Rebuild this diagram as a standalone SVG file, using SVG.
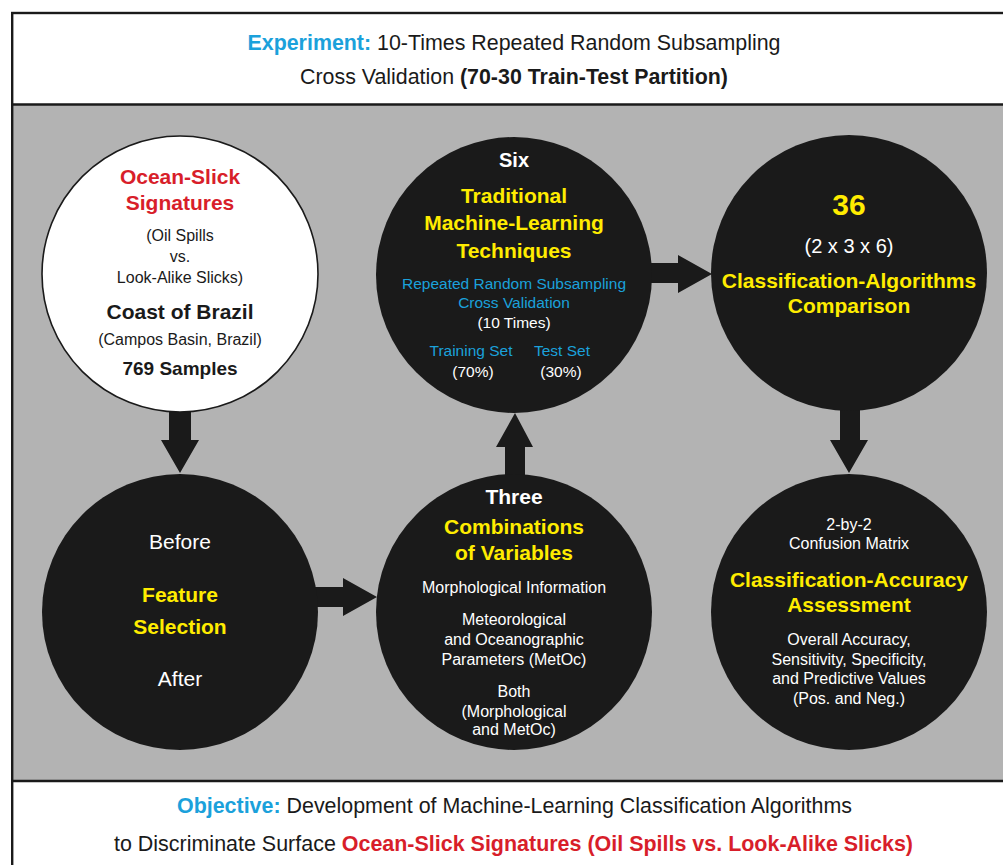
<svg xmlns="http://www.w3.org/2000/svg" width="1003" height="865" viewBox="0 0 1003 865">
<style>
text{font-family:"Liberation Sans",Arial,sans-serif;text-anchor:middle}
.nar{font-family:"Liberation Sans Narrow","Liberation Sans",Arial,sans-serif;font-size:21.5px;fill:#1a1a1a}
.b{font-weight:bold}
.cy{fill:#1ba1db}
.rd{fill:#d81e2a}
.ye{fill:#ffec00;font-weight:bold;font-size:21px}
.wh{fill:#ffffff}
.bk{fill:#1a1a1a}
.dark{fill:#1a1a1a}
.s16{font-size:16px}
.s15{font-size:15.5px}
.s21{font-size:21px}
.s30{font-size:30px}
</style>
<rect x="0" y="0" width="1003" height="865" fill="#ffffff"/>
<g id="frame">
<rect x="12" y="104" width="1000" height="677" fill="#b3b3b3"/>
<rect x="12.2" y="13" width="1000" height="870" fill="none" stroke="#1a1a1a" stroke-width="2.4"/>
<line x1="12" y1="104.5" x2="1003" y2="104.5" stroke="#1a1a1a" stroke-width="2.4"/>
<line x1="12" y1="781" x2="1003" y2="781" stroke="#1a1a1a" stroke-width="2.4"/>
</g>
<g id="header">
<text class="nar" x="514" y="50" textLength="533" lengthAdjust="spacingAndGlyphs"><tspan class="b cy">Experiment:</tspan> 10-Times Repeated Random Subsampling</text>
<text class="nar" x="514" y="84" textLength="428" lengthAdjust="spacingAndGlyphs">Cross Validation <tspan class="b">(70-30 Train-Test Partition)</tspan></text>
</g>
<g id="footer">
<text class="nar" x="514.5" y="813" textLength="675" lengthAdjust="spacingAndGlyphs"><tspan class="b cy">Objective:</tspan> Development of Machine-Learning Classification Algorithms</text>
<text class="nar" x="513.5" y="851" textLength="799" lengthAdjust="spacingAndGlyphs">to Discriminate Surface <tspan class="b rd">Ocean-Slick Signatures (Oil Spills vs. Look-Alike Slicks)</tspan></text>
</g>
<g id="connectors" fill="#1a1a1a">
<polygon points="169,400 191,400 191,440 199,440 180,473 161,440 169,440"/>
<polygon points="300,587 343,587 343,578 377,597 343,616 343,607 300,607"/>
<polygon points="505,480 525,480 525,447 533,447 515,413 496,447 505,447"/>
<polygon points="640,263 678,263 678,255 712,274 678,293 678,283 640,283"/>
<polygon points="840,400 860,400 860,440 868,440 849,473 830,440 840,440"/>
</g>
<g id="node-signatures">
<circle cx="180" cy="274" r="138" fill="#ffffff" stroke="#1a1a1a" stroke-width="1.6"/>
<text class="b rd s21" x="180" y="184">Ocean-Slick</text>
<text class="b rd s21" x="180" y="210">Signatures</text>
<text class="bk s16" x="180" y="241">(Oil Spills</text>
<text class="bk s16" x="180" y="262">vs.</text>
<text class="bk s16" x="180" y="283">Look-Alike Slicks)</text>
<text class="b bk s21" x="180" y="319">Coast of Brazil</text>
<text class="bk s16" x="180" y="345">(Campos Basin, Brazil)</text>
<text class="b bk" x="180" y="375" font-size="19">769 Samples</text>
</g>
<g id="node-techniques">
<circle cx="514" cy="275" r="138" class="dark"/>
<text class="b wh" x="514" y="167" font-size="20">Six</text>
<text class="ye" x="514" y="203">Traditional</text>
<text class="ye" x="514" y="230">Machine-Learning</text>
<text class="ye" x="514" y="258">Techniques</text>
<text class="cy s15" x="514" y="289">Repeated Random Subsampling</text>
<text class="cy s15" x="514" y="308">Cross Validation</text>
<text class="wh s15" x="514" y="328">(10 Times)</text>
<text class="cy s15" x="471" y="356">Training Set</text>
<text class="cy s15" x="562" y="356">Test Set</text>
<text class="wh s15" x="473" y="377">(70%)</text>
<text class="wh s15" x="561" y="377">(30%)</text>
</g>
<g id="node-comparison">
<circle cx="849" cy="273" r="138" class="dark"/>
<text class="ye s30" x="849" y="215">36</text>
<text class="wh" x="849" y="253" font-size="20">(2 x 3 x 6)</text>
<text class="ye" x="849" y="288">Classification-Algorithms</text>
<text class="ye" x="849" y="313">Comparison</text>
</g>
<g id="node-feature-selection">
<circle cx="180" cy="612" r="138" class="dark"/>
<text class="wh s21" x="180" y="549">Before</text>
<text class="ye" x="180" y="602">Feature</text>
<text class="ye" x="180" y="634">Selection</text>
<text class="wh s21" x="180" y="686">After</text>
</g>
<g id="node-combinations">
<circle cx="514" cy="612" r="138" class="dark"/>
<text class="b wh s21" x="514" y="504">Three</text>
<text class="ye" x="514" y="534">Combinations</text>
<text class="ye" x="514" y="560">of Variables</text>
<text class="wh s16" x="514" y="593">Morphological Information</text>
<text class="wh s16" x="514" y="625">Meteorological</text>
<text class="wh s16" x="514" y="645">and Oceanographic</text>
<text class="wh s16" x="514" y="665">Parameters (MetOc)</text>
<text class="wh s16" x="514" y="697">Both</text>
<text class="wh s16" x="514" y="717">(Morphological</text>
<text class="wh s16" x="514" y="735">and MetOc)</text>
</g>
<g id="node-assessment">
<circle cx="849" cy="612" r="138" class="dark"/>
<text class="wh s16" x="849" y="530">2-by-2</text>
<text class="wh s16" x="849" y="549">Confusion Matrix</text>
<text class="ye" x="849" y="587">Classification-Accuracy</text>
<text class="ye" x="849" y="612">Assessment</text>
<text class="wh s16" x="849" y="645">Overall Accuracy,</text>
<text class="wh s16" x="849" y="665">Sensitivity, Specificity,</text>
<text class="wh s16" x="849" y="684">and Predictive Values</text>
<text class="wh s16" x="849" y="704">(Pos. and Neg.)</text>
</g>
</svg>
